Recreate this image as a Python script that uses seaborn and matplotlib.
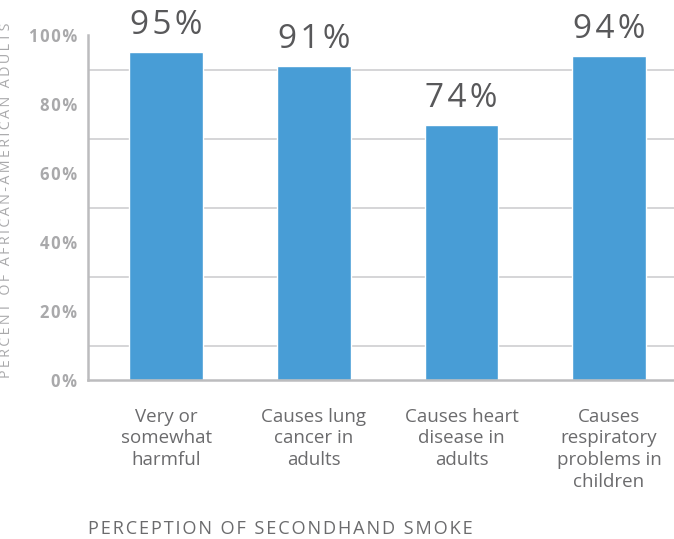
import matplotlib
matplotlib.use("Agg")
import matplotlib.pyplot as plt
import seaborn as sns
import pandas as pd
from matplotlib.ticker import MultipleLocator, FuncFormatter

categories = [
    "Very or\nsomewhat\nharmful",
    "Causes lung\ncancer in\nadults",
    "Causes heart\ndisease in\nadults",
    "Causes\nrespiratory\nproblems in\nchildren",
]
values = [95, 91, 74, 94]
value_labels = ["95%", "91%", "74%", "94%"]
y_label = "PERCENT OF AFRICAN-AMERICAN ADULTS"
x_label = "PERCEPTION OF SECONDHAND SMOKE"

sns.set_theme(style="white")
plt.rcParams["font.family"] = ["Open Sans", "DejaVu Sans"]

BAR = "#489dd6"
AXIS = "#bcbcbe"
GRID = "#d2d2d4"


def tracked(text, gap="\u2009"):
    """Widen letter spacing by putting a narrow space between characters."""
    return gap.join(text)


df = pd.DataFrame({"category": categories, "value": values})

fig = plt.figure(figsize=(6.74, 5.39), dpi=100)
ax = fig.add_axes([88 / 674, 1 - 380 / 539, 586 / 674, 345 / 539])

sns.barplot(data=df, x="category", y="value", color=BAR, saturation=1,
            width=0.5, ax=ax)

ax.set_xlim(-0.53, 3.44)
ax.set_ylim(0, 100)

# major ticks carry labels, minor ticks carry the horizontal guides
ax.yaxis.set_major_locator(MultipleLocator(20))
ax.yaxis.set_minor_locator(MultipleLocator(20, offset=10))
ax.yaxis.set_major_formatter(
    FuncFormatter(lambda v, _: tracked(f"{int(v)}%", "\u200a")))
ax.tick_params(axis="y", which="major", direction="in", length=9, width=1.6,
               color=AXIS, pad=8, labelsize=12, labelcolor="#a9a9ab")
ax.tick_params(axis="y", which="minor", length=0)
for t in ax.get_yticklabels():
    t.set_fontweight("bold")
ax.grid(False)
ax.grid(True, which="minor", axis="y", color=GRID, lw=1.3)
ax.set_axisbelow(True)

ax.tick_params(axis="x", length=0, pad=20, labelsize=13.5, labelcolor="#6b6b6d")
for t in ax.get_xticklabels():
    t.set_linespacing(1.26)

for s in ["top", "right"]:
    ax.spines[s].set_visible(False)
for s in ["left", "bottom"]:
    ax.spines[s].set_color(AXIS)
    ax.spines[s].set_linewidth(1.8)

for i, (v, lab) in enumerate(zip(values, value_labels)):
    ax.annotate(tracked(lab, "\u200a"), (i, v), xytext=(0, 13),
                textcoords="offset points", ha="center", va="baseline",
                fontsize=24, color="#58585a")

ax.set_ylabel(tracked(y_label), fontsize=10.3, color="#a9a9ab")
ax.yaxis.set_label_coords(-0.126, 0.52)
ax.set_xlabel(tracked(x_label, "\u200a"), fontsize=13.1, color="#6b6b6d",
              ha="left")
ax.xaxis.set_label_coords(0, (380 - 529.5) / 345)
ax.xaxis.label.set_va("center")

fig.savefig("out.png", dpi=100)
